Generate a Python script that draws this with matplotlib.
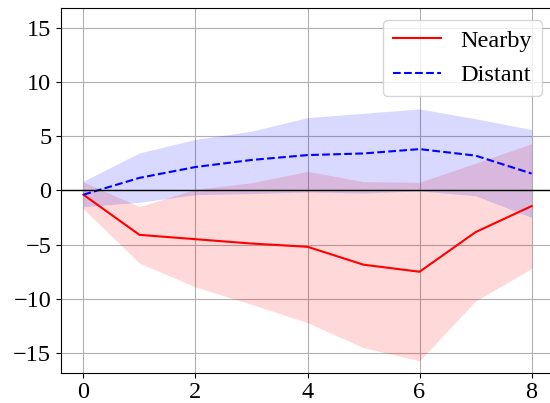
import numpy as np
import matplotlib
matplotlib.use("Agg")
import matplotlib.pyplot as plt

plt.rcParams["font.family"] = ["Liberation Serif", "DejaVu Serif"]
plt.rcParams["font.size"] = 17.5

# horizon steps
steps = [0, 1, 2, 3, 4, 5, 6, 7, 8]

# nearby: point estimate and band
nearby = [-0.4, -4.1, -4.5, -4.9, -5.2, -6.85, -7.5, -3.85, -1.45]
nearby_lo = [-1.7, -6.7, -8.9, -10.5, -12.2, -14.5, -15.7, -10.2, -7.2]
nearby_hi = [0.77, -1.5, 0.1, 0.7, 1.75, 0.8, 0.75, 2.5, 4.3]

# distant: point estimate and band
distant = [-0.4, 1.15, 2.15, 2.8, 3.25, 3.4, 3.8, 3.2, 1.55]
distant_lo = [-1.5, -1.1, -0.4, -0.3, -0.15, -0.25, -0.05, -0.5, -2.5]
distant_hi = [0.85, 3.45, 4.7, 5.45, 6.7, 7.1, 7.5, 6.6, 5.6]

fig = plt.figure(figsize=(5.5, 4.03), dpi=100)
ax = fig.add_axes([61 / 550, 30.3 / 403, 493 / 550, 364.7 / 403])

ax.plot(steps, nearby, color="red", lw=1.5, label="Nearby")
ax.fill_between(steps, nearby_lo, nearby_hi, color="red", alpha=0.15, lw=0)
ax.plot(steps, distant, color="blue", lw=1.5, ls="--", label="Distant")
ax.fill_between(steps, distant_lo, distant_hi, color="blue", alpha=0.15, lw=0)

ax.axhline(0, color="black", lw=1.0)
ax.set_xlim(-0.4, 8.4)
ax.set_ylim(-16.8, 16.8)
ax.set_xticks([0, 2, 4, 6, 8])
ax.set_yticks([-15, -10, -5, 0, 5, 10, 15])
ax.grid(True, color="#b0b0b0", lw=0.8)
ax.set_axisbelow(True)
ax.legend(loc="upper right", fontsize=17.5)

fig.savefig("out.png", dpi=100)
